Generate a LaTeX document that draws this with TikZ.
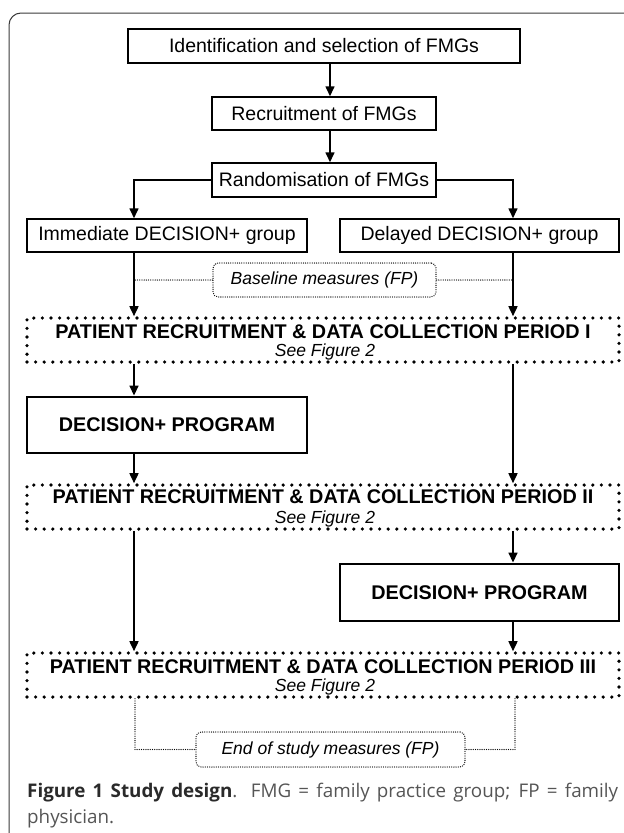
\documentclass[tikz,border=0pt]{standalone}
\usepackage{fontspec}
\setmainfont{Liberation Sans}
\newfontfamily\capfont{Open Sans}
\usetikzlibrary{arrows.meta}
\definecolor{capgray}{HTML}{555555}
\definecolor{capdark}{HTML}{2A2A2A}
\definecolor{framecol}{HTML}{3A3A3A}
\begin{document}
\begin{tikzpicture}[x=1pt,y=-1pt,
 box/.style={draw, line width=1.5pt, inner sep=0pt, font=\fontsize{19.5}{22}\selectfont},
 progbox/.style={draw, line width=2.9pt, inner sep=0pt, font=\fontsize{19.8}{22}\selectfont\bfseries},
 pbox/.style={draw, line width=3.6pt, dash pattern=on 0pt off 8.6pt, line cap=round, inner sep=0pt},
 ptitle/.style={inner sep=0pt, font=\fontsize{19.8}{22}\selectfont\bfseries},
 psee/.style={inner sep=0pt, font=\fontsize{17.5}{20}\selectfont\itshape},
 mbox/.style={draw, line width=1.3pt, dash pattern=on 0pt off 2.2pt, line cap=round, rounded corners=5pt, inner sep=0pt, font=\fontsize{17.5}{20}\selectfont\itshape},
 arr/.style={line width=1.6pt, -{Triangle[width=9pt,length=10pt]}},
 dline/.style={line width=1.3pt, dash pattern=on 0pt off 2.2pt, line cap=round},
]
\useasboundingbox (0,0) rectangle (624,833);
% frame
\draw[framecol, line width=1pt, rounded corners=12pt] (9,833) -- (9,13) -- (624,13);

% column coordinates
\coordinate (lc) at (134,0);
\coordinate (rc) at (513,0);
\coordinate (mc) at (330,0);
\coordinate (lc2) at (135,0);
\coordinate (rc2) at (515,0);

% boxes
\node[box, minimum width=392pt, minimum height=34pt] (b1) at (324,46) {Identification and selection of FMGs};
\node[box, minimum width=224pt, minimum height=33pt] (b2) at (324,113.5) {Recruitment of FMGs};
\node[box, minimum width=224pt, minimum height=34pt] (b3) at (324,180) {Randomisation of FMGs};
\node[box, minimum width=280pt, minimum height=33pt] (b4) at (167,235.5) {Immediate DECISION+ group};
\node[box, minimum width=279pt, minimum height=33pt] (b5) at (479.5,235.5) {Delayed DECISION+ group};
\node[mbox, minimum width=223pt, minimum height=34pt] (base) at (324.5,280) {Baseline measures (FP)};

\node[pbox, minimum width=592pt, minimum height=44pt] (p1) at (323,340) {};
\node[ptitle] (p1t) at (323,332) {PATIENT RECRUITMENT \& DATA COLLECTION PERIOD I};
\node[psee] (p1s) at (325,352) {See Figure 2};

\node[progbox, minimum width=280pt, minimum height=56pt] (d1) at (167,425) {DECISION+ PROGRAM};

\node[pbox, minimum width=592pt, minimum height=44pt] (p2) at (323,507) {};
\node[ptitle] (p2t) at (323,497) {PATIENT RECRUITMENT \& DATA COLLECTION PERIOD II};
\node[psee] (p2s) at (325,519) {See Figure 2};

\node[progbox, minimum width=279pt, minimum height=57pt] (d2) at (479.5,592.5) {DECISION+ PROGRAM};

\node[pbox, minimum width=592pt, minimum height=44pt] (p3) at (323,675) {};
\node[ptitle] (p3t) at (323,667) {PATIENT RECRUITMENT \& DATA COLLECTION PERIOD III};
\node[psee] (p3s) at (325,687) {See Figure 2};

\node[mbox, minimum width=269pt, minimum height=35pt] (endm) at (330.5,749.5) {End of study measures (FP)};

% connectors
\draw[arr] (mc |- b1.south) -- (mc |- b2.north);
\draw[arr] (mc |- b2.south) -- (mc |- b3.north);
\draw[arr] (b3.west) -| (lc |- b4.north);
\draw[arr] (b3.east) -| (rc |- b5.north);
\draw[arr] (lc |- b4.south) -- (lc |- p1.north);
\draw[arr] (rc |- b5.south) -- (rc |- p1.north);
\draw[dline] (base.west) -- (lc |- base.west);
\draw[dline] (base.east) -- (rc |- base.east);
\draw[arr] (lc |- p1.south) -- (lc |- d1.north);
\draw[arr] (rc |- p1.south) -- (rc |- p2.north);
\draw[arr] (lc |- d1.south) -- (lc |- p2.north);
\draw[arr] (lc |- p2.south) -- (lc |- p3.north);
\draw[arr] (rc |- p2.south) -- (rc |- d2.north);
\draw[arr] (rc |- d2.south) -- (rc |- p3.north);
\draw[dline] (lc2 |- p3.south) |- (endm.west);
\draw[dline] (rc2 |- p3.south) |- (endm.east);

% caption
\node[anchor=north west, inner sep=0pt, text width=591pt, align=justify,
      font=\capfont\fontsize{18.8}{26}\selectfont, text=capgray] (cap) at (27,783)
 {{\color{capdark}\bfseries Figure 1 Study design}. FMG = family practice group; FP = family\linebreak physician.};
\end{tikzpicture}
\end{document}
